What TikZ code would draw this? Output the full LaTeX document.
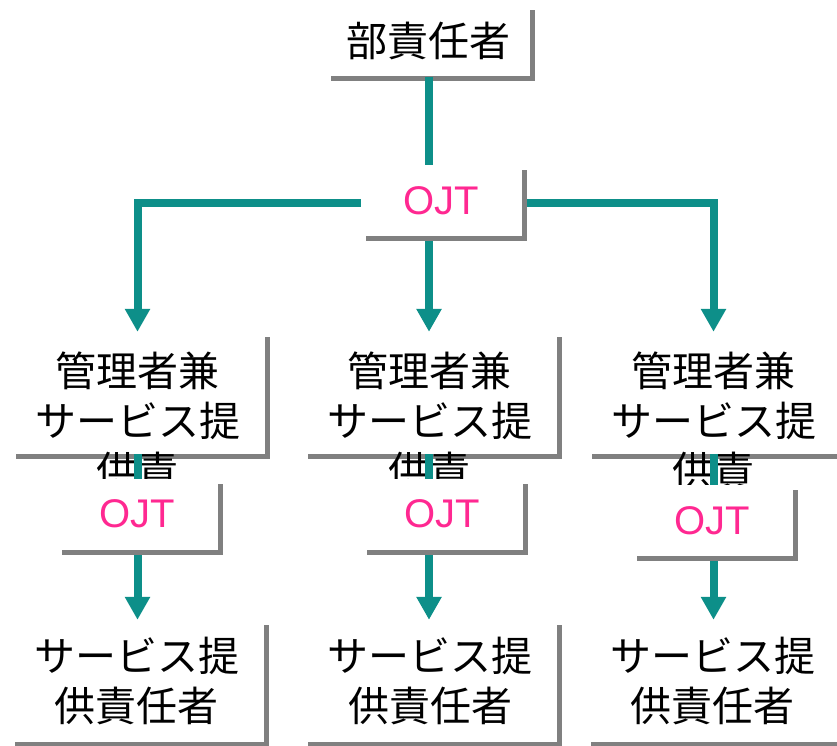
\documentclass[tikz,border=0pt]{standalone}
\usepackage{fontspec}
\newfontfamily\jpfont{Noto Sans CJK JP}
\newfontfamily\latfont{Liberation Sans}
\usetikzlibrary{arrows.meta,shadows}
\definecolor{tealc}{RGB}{13,143,137}
\definecolor{shadowc}{RGB}{128,128,128}
\definecolor{pinkc}{RGB}{255,40,145}
\tikzset{
  box/.style={fill=white, inner sep=0pt,
    general shadow={fill=shadowc, shadow xshift=5pt, shadow yshift=-5pt}},
  jtext/.style={font=\jpfont\fontsize{41}{50}\selectfont, align=center, inner sep=0pt},
  bigbox/.style={box, jtext, minimum width=254pt, minimum height=122pt},
  topbox/.style={box, jtext, minimum width=204pt, minimum height=71pt},
  ojtbox/.style={box, minimum width=161pt, minimum height=71pt,
    font=\latfont\fontsize{40}{48}\selectfont, text=pinkc},
  conn/.style={draw=tealc, line width=8pt},
  arr/.style={conn, -{Triangle[width=24pt,length=23pt]}},
}
\begin{document}
\begin{tikzpicture}[x=1pt,y=-1pt]
\useasboundingbox (0,0) rectangle (837,746);
\clip (0,0) rectangle (837,746);
% connector columns and rows
\coordinate (xL) at (137.5,0);
\coordinate (xM) at (429,0);
\coordinate (xR) at (713.5,0);
\coordinate (yH) at (0,203);
% top box
\node[topbox] (top) at (428,41) {部責任者};
% middle row boxes
\node[bigbox] (mL) at (137.5,393) {};
\node[jtext] (tL) at (137.5,421) {管理者兼\\サービス提\\供責};
\node[bigbox] (mM) at (429.5,393) {};
\node[jtext] (tM) at (429.5,421) {管理者兼\\サービス提\\供責};
\node[bigbox] (mR) at (714,393) {};
\node[jtext] (tR) at (713.5,421) {管理者兼\\サービス提\\供責};
% bottom row boxes
\node[bigbox] (bL) at (136.5,681) {サービス提\\供責任者};
\node[bigbox] (bM) at (430,681) {サービス提\\供責任者};
\node[bigbox] (bR) at (712.5,681) {サービス提\\供責任者};
% connectors
\draw[conn] (top.south -| xM) -- (xM |- yH);
\draw[arr] (xM |- yH) -- (mM.north -| xM);
\draw[arr] (xM |- yH) -| (mL.north -| xL);
\draw[arr] (xM |- yH) -| (mR.north -| xR);
\draw[conn] (mL.south -| xL) -- ([yshift=-10pt]xL |- 0,479);
\draw[conn] (mM.south -| xM) -- ([yshift=-10pt]xM |- 0,479);
\draw[conn] (mR.south -| xR) -- ([yshift=-10pt]xR |- 0,485);
\draw[arr] (xL |- 0,540) -- (bL.north -| xL);
\draw[arr] (xM |- 0,540) -- (bM.north -| xM);
\draw[arr] (xR |- 0,545) -- (bR.north -| xR);
% OJT boxes
\node[ojtbox] (oT) at (441.5,200.5) {OJT};
\node[ojtbox] (oL) at (137.5,514) {OJT};
\node[ojtbox] (oM) at (442,514) {OJT};
\node[ojtbox] (oR) at (712.5,520.5) {OJT};
\end{tikzpicture}
\end{document}
